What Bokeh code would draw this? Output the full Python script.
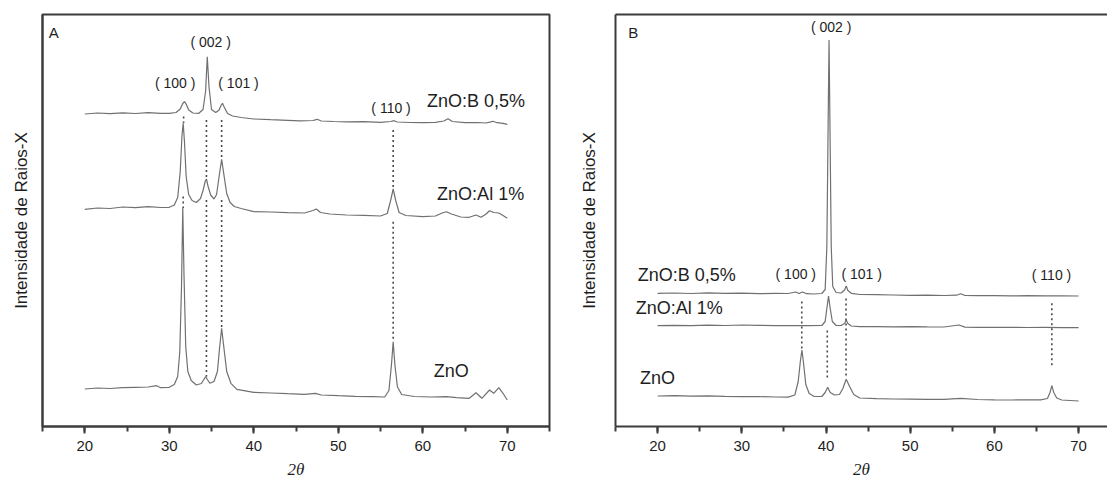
from bokeh.plotting import figure
from bokeh.layouts import row
from bokeh.models import Range1d, FixedTicker, SingleIntervalTicker, LinearAxis
from bokeh.core.properties import value
from bokeh.embed import file_html
from bokeh.resources import INLINE

# ---------------- Panel A data (2theta, intensity a.u. with vertical offsets) ----------------
A_B05_X = [20, 21.5, 23, 24.5, 26, 27.5, 29, 30, 30.8, 31.3,
           31.6, 31.8, 32.0, 32.3, 32.8, 33.5, 34.0, 34.3, 34.5, 34.7,
           35.0, 35.5, 35.9, 36.15, 36.3, 36.5, 36.9, 37.5, 38.5, 40,
           42, 44, 45.5, 47, 47.5, 48, 49.5, 51, 53, 55,
           56.2, 56.6, 57, 58.5, 60, 61.5, 62.5, 63, 63.5, 65,
           66.5, 67.5, 68.3, 68.8, 69.5, 70]
A_B05_Y = [312.5, 313.5, 312.8, 313.6, 313.0, 313.8, 313.2, 313.2, 314.0, 317.5,
           323.0, 324.8, 322.5, 316.5, 313.5, 313.2, 317.0, 335.0, 369.8, 340.0,
           317.0, 314.0, 316.5, 321.5, 323.2, 319.5, 313.0, 310.5, 309.0, 307.5,
           306.8, 306.2, 305.6, 306.0, 307.2, 305.5, 305.0, 304.6, 304.8, 304.2,
           305.0, 305.8, 304.5, 304.0, 303.8, 304.2, 305.5, 307.8, 305.0, 303.8,
           304.0, 303.5, 305.2, 303.8, 303.2, 302.2]

A_AL1_X = [20, 21.5, 23, 24.5, 26, 27.5, 29, 30, 30.6, 31.0,
           31.3, 31.5, 31.65, 31.8, 32.0, 32.3, 32.7, 33.2, 33.7, 34.0,
           34.25, 34.4, 34.6, 34.9, 35.3, 35.6, 35.9, 36.2, 36.5, 36.8,
           37.2, 37.7, 38.5, 40, 42, 44, 46, 47.0, 47.4, 47.9,
           49, 51, 53, 55, 55.8, 56.2, 56.5, 56.8, 57.2, 58,
           60, 61.5, 62.3, 62.8, 63.4, 64.5, 65.5, 66.3, 66.9, 67.5,
           67.9, 68.4, 69.0, 69.5, 70]
A_AL1_Y = [217.2, 218.5, 218.0, 219.5, 218.8, 219.8, 219.0, 219.2, 221.5, 229.0,
           255.0, 290.0, 303.2, 285.0, 250.0, 232.0, 226.0, 224.0, 228.0, 236.0,
           245.0, 247.5, 240.0, 231.5, 227.5, 232.0, 250.0, 267.2, 250.0, 233.0,
           224.0, 220.0, 218.0, 214.8, 214.5, 213.8, 213.5, 216.0, 217.5, 214.0,
           212.5, 211.5, 211.2, 210.5, 213.0, 226.0, 237.5, 226.0, 214.0, 211.0,
           209.8, 210.5, 213.5, 214.8, 212.5, 209.5, 209.2, 211.5, 209.2, 212.5,
           215.8, 214.0, 213.5, 211.0, 208.2]

A_ZNO_X = [20, 21.5, 23, 24.5, 26, 27.5, 28.5, 29, 30, 30.6,
           31.0, 31.25, 31.45, 31.6, 31.75, 31.95, 32.2, 32.6, 33.2, 33.8,
           34.3, 34.8, 35.3, 35.7, 35.95, 36.2, 36.45, 36.8, 37.3, 38,
           40, 42, 44, 46, 47.3, 48, 50, 52, 54, 55.5,
           56.0, 56.3, 56.5, 56.7, 57.0, 57.5, 59, 61, 62.8, 64,
           65.5, 66.3, 67.0, 67.9, 68.4, 69.0, 69.5, 70]
A_ZNO_Y = [37.5, 38.5, 38.0, 38.8, 39.2, 39.5, 40.8, 38.8, 39.2, 42.0,
           50.0, 75.0, 140.0, 218.2, 150.0, 80.0, 55.0, 46.0, 41.5, 43.0,
           49.8, 43.2, 45.0, 55.0, 78.0, 98.2, 80.0, 55.0, 43.2, 37.2,
           34.2, 33.5, 32.8, 32.2, 33.2, 31.5, 30.8, 30.2, 29.8, 29.5,
           36.0, 62.0, 84.8, 62.0, 39.8, 32.0, 30.0, 29.5, 29.8, 28.8,
           28.2, 33.8, 28.2, 36.5, 33.2, 38.8, 33.2, 26.5]

A_DROP_X = [31.7, 31.65, 34.4, 34.4, 36.2, 36.2, 56.5, 56.5]
A_DROP_Y0 = [310.0, 230.0, 306.5, 226.5, 306.5, 226.5, 296.5, 204.8]
A_DROP_Y1 = [303.5, 218.2, 247.5, 49.8, 267.2, 98.2, 237.5, 84.8]

A_SERIES_NAMES = ["ZnO:B 0,5%", "ZnO:Al 1%", "ZnO"]
A_SERIES_LX = [60.5, 61.7, 61.3]
A_SERIES_LY = [325.5, 232.5, 55.5]
A_PEAK_NAMES = ["( 100 )", "( 002 )", "( 101 )", "( 110 )"]
A_PEAK_LX = [30.7, 34.9, 38.2, 56.25]
A_PEAK_LY = [343.8, 384.2, 343.8, 319.0]

# ---------------- Panel B data ----------------
B_B05_X = [20, 22, 24, 26, 28, 30, 32, 34, 35.5, 36.4,
           36.8, 37.2, 37.7, 38.5, 39.5, 39.9, 40.1, 40.25, 40.36, 40.47,
           40.62, 40.8, 41.2, 41.8, 42.2, 42.4, 42.6, 43.0, 44, 46,
           48, 50, 52, 54, 55.5, 56, 56.5, 58, 60, 62,
           64, 66, 68, 70]
B_B05_Y = [133.2, 133.5, 133.0, 133.6, 133.2, 133.4, 132.8, 133.2, 133.0, 134.5,
           133.0, 134.5, 132.8, 132.5, 133.0, 137.0, 180.0, 300.0, 386.5, 300.0,
           180.0, 140.0, 134.0, 133.5, 136.5, 140.5, 136.0, 133.2, 132.0, 131.8,
           131.5, 131.2, 131.4, 131.0, 131.3, 132.8, 131.0, 130.8, 130.9, 130.6,
           130.8, 130.7, 130.6, 130.5]

B_AL1_X = [20, 22, 24, 26, 28, 30, 32, 34, 36, 38,
           39.5, 39.9, 40.1, 40.3, 40.5, 40.75, 41.2, 41.8, 42.2, 42.4,
           42.6, 43.0, 44, 46, 48, 50, 52, 54, 55.8, 56.5,
           58, 60, 62, 64, 66, 68, 70]
B_AL1_Y = [100.8, 101.2, 100.9, 101.3, 101.0, 101.5, 101.1, 100.9, 100.8, 100.9,
           101.0, 105.0, 118.0, 130.5, 118.0, 105.0, 101.0, 101.0, 103.0, 106.5,
           103.0, 100.5, 99.8, 99.9, 99.7, 99.8, 99.6, 99.5, 101.5, 99.4,
           99.2, 99.2, 99.1, 99.0, 99.1, 98.9, 98.8]

B_ZNO_X = [20, 22, 24, 26, 28, 30, 32, 34, 35.5, 36.3,
           36.7, 36.95, 37.14, 37.35, 37.6, 38.0, 38.6, 39.5, 39.9, 40.2,
           40.5, 41.0, 41.6, 42.0, 42.4, 42.8, 43.3, 44, 46, 48,
           50, 52, 54, 56, 58, 60, 62, 64, 65.5, 66.3,
           66.6, 66.82, 67.05, 67.4, 68, 69, 70]
B_ZNO_Y = [30.5, 30.8, 30.3, 30.6, 30.1, 29.8, 29.9, 29.5, 29.4, 31.5,
           45.0, 65.0, 76.5, 62.0, 42.0, 33.0, 30.0, 30.0, 34.0, 39.2,
           34.0, 31.5, 32.0, 38.0, 47.2, 40.0, 32.0, 28.5, 27.8, 27.5,
           27.3, 27.2, 27.1, 28.2, 27.0, 26.6, 26.5, 26.7, 26.6, 28.0,
           34.0, 40.8, 34.0, 28.5, 26.5, 26.0, 25.5]

B_DROP_X = [37.12, 40.15, 42.38, 66.82]
B_DROP_Y0 = [125.0, 96.0, 128.0, 123.2]
B_DROP_Y1 = [77.0, 47.5, 50.0, 58.2]

B_SERIES_NAMES = ["ZnO:B 0,5%", "ZnO:Al 1%", "ZnO"]
B_SERIES_LX = [17.65, 17.4, 17.9]
B_SERIES_LY = [152.0, 118.2, 48.2]
B_PEAK_NAMES = ["( 100 )", "( 002 )", "( 101 )", "( 110 )"]
B_PEAK_LX = [36.41, 40.62, 44.23, 66.78]
B_PEAK_LY = [152.5, 399.8, 152.5, 151.5]

X_LABEL = "2θ"
Y_LABEL = "Intensidade de Raios-X"

FONT = "Liberation Sans"
AXIS_COLOR = "#3c3c3c"
TRACE_COLOR = "#707070"
TEXT_COLOR = "#1e1e1e"


def make_panel(letter, x_end, width, border_left, border_right, traces,
               drops, series_lab, peak_lab, full_box):
    p = figure(width=width, height=484, output_backend="svg", toolbar_location=None,
               x_range=Range1d(15, x_end), y_range=Range1d(0, 412),
               min_border_left=border_left, min_border_right=border_right,
               min_border_top=14, min_border_bottom=58)
    p.grid.visible = False
    p.background_fill_color = "white"
    p.border_fill_color = "white"

    # bottom x axis
    xa = p.below[0]
    xa.ticker = SingleIntervalTicker(interval=10, num_minor_ticks=2)
    xa.axis_line_color = AXIS_COLOR
    xa.axis_line_width = 2
    xa.major_tick_line_color = AXIS_COLOR
    xa.major_tick_line_width = 2
    xa.minor_tick_line_color = AXIS_COLOR
    xa.minor_tick_line_width = 2
    xa.major_tick_out = 7
    xa.major_tick_in = 0
    xa.minor_tick_out = 5
    xa.minor_tick_in = 0
    xa.major_label_standoff = 7
    xa.major_label_text_font = FONT
    xa.major_label_text_font_size = "15px"
    xa.major_label_text_color = TEXT_COLOR
    xa.axis_label = X_LABEL
    xa.axis_label_text_font = "Liberation Serif"
    xa.axis_label_text_font_style = "italic"
    xa.axis_label_text_font_size = "17px"
    xa.axis_label_text_color = TEXT_COLOR
    xa.axis_label_standoff = 6

    # left y axis
    ya = p.left[0]
    ya.ticker = FixedTicker(ticks=[])
    ya.major_tick_out = 0
    ya.major_tick_in = 0
    ya.minor_tick_out = 0
    ya.minor_tick_in = 0
    ya.major_label_standoff = 0
    ya.major_label_text_font_size = "0px"
    ya.axis_line_color = AXIS_COLOR
    ya.axis_line_width = 2
    ya.axis_label = Y_LABEL
    ya.axis_label_text_font = FONT
    ya.axis_label_text_font_style = "normal"
    ya.axis_label_text_font_size = "17px"
    ya.axis_label_text_color = TEXT_COLOR
    ya.axis_label_standoff = 12 if full_box else 17

    if full_box:
        p.outline_line_color = AXIS_COLOR
        p.outline_line_width = 2
        p.outline_line_alpha = 1
    else:
        p.outline_line_color = None
        top = LinearAxis(ticker=FixedTicker(ticks=[]), major_tick_out=0, major_tick_in=0,
                         minor_tick_out=0, minor_tick_in=0, major_label_standoff=0,
                         axis_line_color=AXIS_COLOR, axis_line_width=2,
                         major_label_text_font_size="0px", axis_label=None)
        p.add_layout(top, "above")

    for xs, ys in traces:
        p.line(xs, ys, line_color=TRACE_COLOR, line_width=1.2)

    dx, dy0, dy1 = drops
    p.segment(x0=dx, y0=dy0, x1=dx, y1=dy1, line_color="#4a4a4a",
              line_width=1.6, line_dash="2 3")

    names, lx, ly = series_lab
    p.text(x=lx, y=ly, text=names, text_font=value(FONT), text_font_size="18px",
           text_align="left", text_baseline="middle", text_color=TEXT_COLOR)
    names, lx, ly = peak_lab
    p.text(x=lx, y=ly, text=names, text_font=value(FONT), text_font_size="14px",
           text_align="center", text_baseline="middle", text_color=TEXT_COLOR)
    p.text(x=[15.75 if full_box else 16.5], y=[394.5], text=[letter], text_font=value(FONT),
           text_font_size="15px", text_align="left", text_baseline="middle",
           text_color=TEXT_COLOR)
    return p


pa = make_panel("A", 75, 565, 42, 16,
                [(A_B05_X, A_B05_Y), (A_AL1_X, A_AL1_Y), (A_ZNO_X, A_ZNO_Y)],
                (A_DROP_X, A_DROP_Y0, A_DROP_Y1),
                (A_SERIES_NAMES, A_SERIES_LX, A_SERIES_LY),
                (A_PEAK_NAMES, A_PEAK_LX, A_PEAK_LY), True)
pb = make_panel("B", 73.43, 542, 50, 0,
                [(B_B05_X, B_B05_Y), (B_AL1_X, B_AL1_Y), (B_ZNO_X, B_ZNO_Y)],
                (B_DROP_X, B_DROP_Y0, B_DROP_Y1),
                (B_SERIES_NAMES, B_SERIES_LX, B_SERIES_LY),
                (B_PEAK_NAMES, B_PEAK_LX, B_PEAK_LY), False)

layout = row(pa, pb)
open("out.html", "w").write(file_html(layout, INLINE))
